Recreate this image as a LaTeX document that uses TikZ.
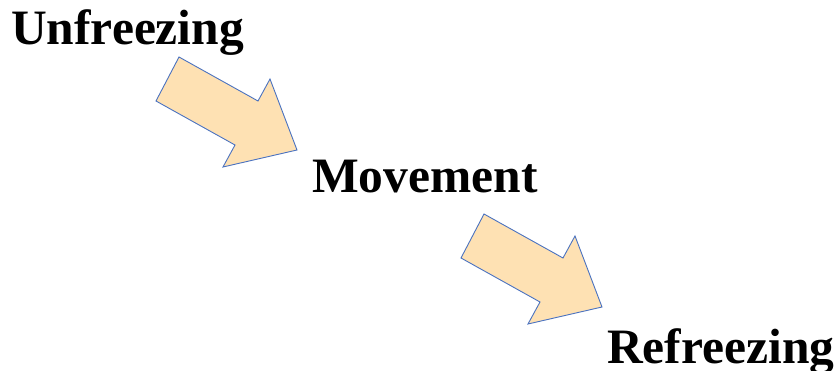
\documentclass[tikz,border=0pt]{standalone}
\usepackage{fontspec}
\setmainfont{Liberation Serif}
\usetikzlibrary{positioning}
\definecolor{arrowfill}{HTML}{FEE1B3}
\definecolor{arrowline}{HTML}{4A72C0}

\begin{document}
\begin{tikzpicture}[x=1pt, y=-1pt,
    stage/.style={anchor=base west, inner sep=0pt,
                  font=\fontsize{49.5}{59}\selectfont\bfseries},
    bigarrow/.style={fill=arrowfill, draw=arrowline, line width=0.9pt,
                     line join=miter},
]
\useasboundingbox (0,0) rectangle (835,371);

% Stages
\node[stage] (unfreeze) at (11,45) {Unfreezing};
\node[stage] (movement) at (312,193) {Movement};
\node[stage] (refreeze) at (607,363) {Refreezing};

% Arrows between stages
\foreach \dx/\dy in {0/0, 305/157} {
  \filldraw[bigarrow, shift={(\dx,\dy)}] (179,57) -- (258,101) -- (270,79)
    -- (297,150) -- (223,167) -- (235,145) -- (156,101) -- cycle;
}

\end{tikzpicture}
\end{document}
